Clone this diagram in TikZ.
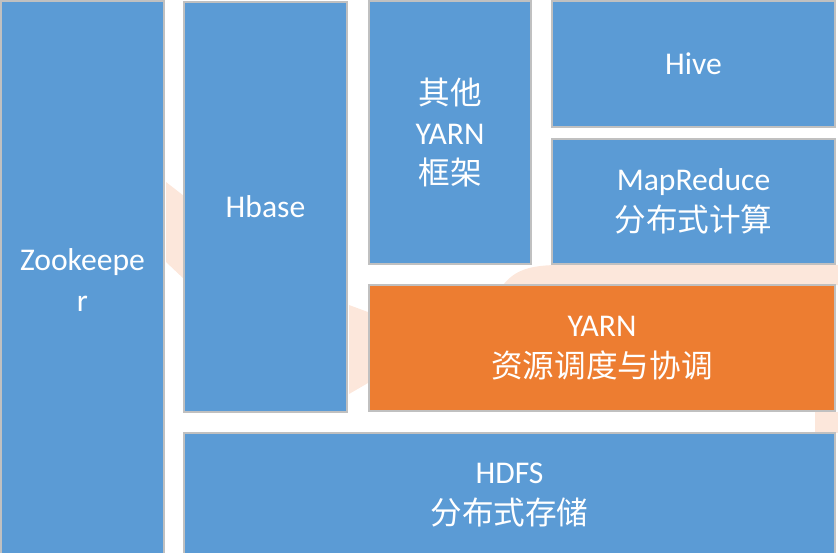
\documentclass[tikz,border=0pt]{standalone}
\usepackage{fontspec}
\setmainfont{Carlito}
\newfontfamily\cjk{Noto Sans CJK SC}
\usepackage{tikz}
\usetikzlibrary{positioning}
\definecolor{boxblue}{HTML}{5B9BD5}
\definecolor{boxorange}{HTML}{ED7D31}
\definecolor{boxline}{HTML}{C0C0C0}
\definecolor{peach}{HTML}{FCE7DB}

\begin{document}
\begin{tikzpicture}[x=0.02cm,y=-0.02cm,
  every node/.style={align=center,inner sep=0pt,text=white,%
    font=\fontsize{18}{23}\selectfont,line width=1.1pt,draw=boxline},%
  b/.style={fill=boxblue},%
  o/.style={fill=boxorange},%
  bg/.style={fill=peach,draw=none},%
  ]
  \useasboundingbox (0,0) rectangle (838,552);
  \clip (0,0) rectangle (838,552);
  % faint background shape, seen only in the gaps
  \fill[bg] (166,182) -- (184,196) -- (184,279) -- (166,262) -- cycle;
  \fill[bg] (349,305) -- (368,312) -- (368,383) -- (349,394) -- cycle;
  \fill[bg] (503,285) .. controls (515,270) and (530,265) .. (560,265) -- (838,265) -- (838,285) -- cycle;
  \fill[bg] (815,412) rectangle (838,433);

  \node (zk) [b,minimum width=3.26cm,minimum height=11.16cm] at (82.5,280) {Zookeepe\\r};
  \node (hbase) [b,minimum width=3.26cm,minimum height=8.2cm] at (265.5,207) {Hbase};
  \node (other) [b,minimum width=3.24cm,minimum height=5.26cm] at (450,132.5)
  {{\cjk 其他}\\YARN\\{\cjk 框架}};
  \node (hive) [b,minimum width=5.66cm,minimum height=2.52cm] at (693.5,64) {Hive};
  \node (mr) [b,minimum width=5.66cm,minimum height=2.5cm] at (693.5,201.5)
  {MapReduce\\{\cjk 分布式计算}};
  \node (yarn) [o,minimum width=9.32cm,minimum height=2.52cm] at (602,348)
  {YARN\\{\cjk 资源调度与协调}};
  \node (hdfs) [b,minimum width=13.02cm,minimum height=2.48cm] at (509.5,495)
  {HDFS\\{\cjk 分布式存储}};
\end{tikzpicture}
\end{document}
